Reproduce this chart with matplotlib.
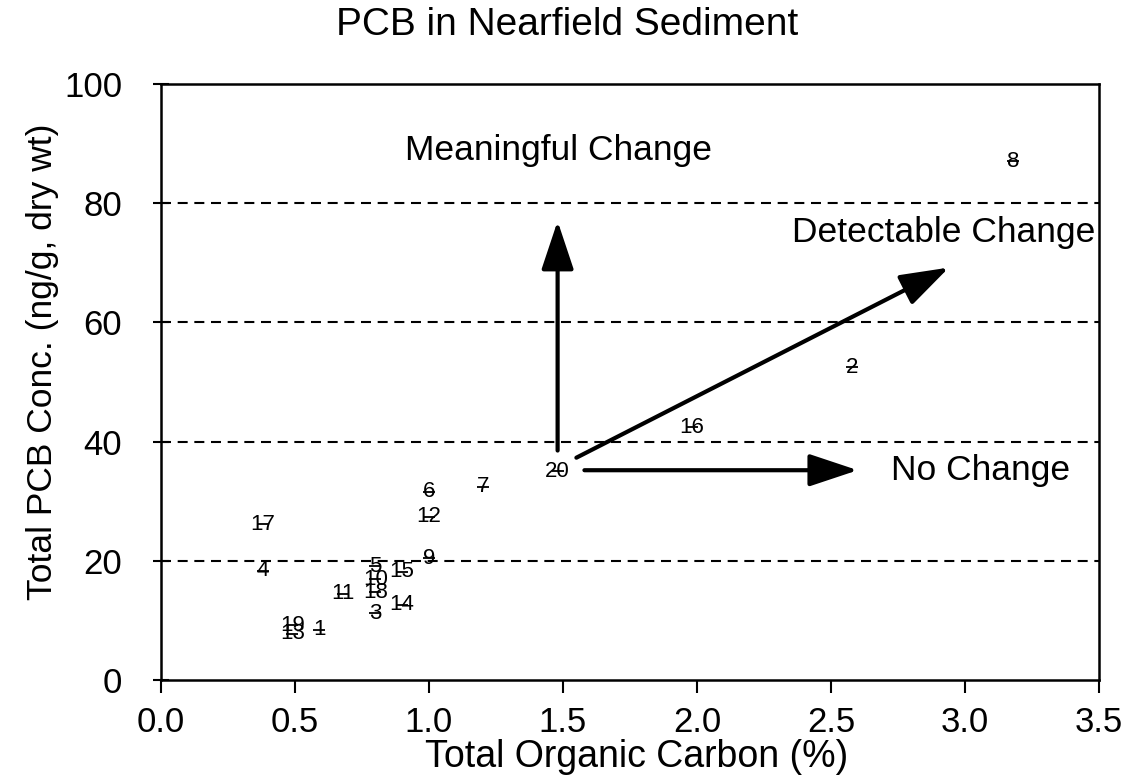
import numpy as np
import matplotlib
matplotlib.use('Agg')
import matplotlib.pyplot as plt

plt.rcParams['font.family'] = ['Liberation Sans', 'DejaVu Sans']

# station data
stations = ['1', '2', '3', '4', '5', '6', '7', '8', '9', '10',
            '11', '12', '13', '14', '15', '16', '17', '18', '19', '20']
toc = [0.59, 2.58, 0.80, 0.38, 0.80, 1.00, 1.20, 3.18, 1.00, 0.80,
       0.68, 1.00, 0.49, 0.90, 0.90, 1.98, 0.38, 0.80, 0.49, 1.48]
pcb = [8.4, 52.5, 11.2, 18.3, 19.1, 31.6, 32.4, 87.0, 20.4, 16.9,
       14.5, 27.4, 7.8, 12.6, 18.2, 42.4, 26.1, 14.7, 9.2, 35.0]

# reference levels (dashed lines)
levels = [20, 40, 60, 80]

# change arrows: (start, end) in data units
arrows = [((1.48, 38.5), (1.48, 77.0)),
          ((1.55, 37.3), (2.94, 69.2)),
          ((1.58, 35.2), (2.60, 35.2))]

# region labels (baseline positions)
notes = ['Meaningful Change', 'Detectable Change', 'No Change']
note_x = [1.483, 2.92, 3.06]
note_y = [87.2, 73.5, 33.5]

fig = plt.figure(figsize=(11.36, 7.82), dpi=100)
ax = fig.add_axes([0.1417, 0.1304, 0.8257, 0.7622])

for lv in levels:
    ax.axhline(lv, color='black', lw=1.5, ls=(0, (4.8, 3.2)), zorder=1)

ax.plot(toc, pcb, ls='none', marker='_', ms=8, mew=1.3, color='black', zorder=3)
for s, x, y in zip(stations, toc, pcb):
    ax.text(x, y, s, ha='center', va='center', fontsize=16, color='black', zorder=4)

for (x0, y0), (x1, y1) in arrows:
    ax.annotate('', xy=(x1, y1), xytext=(x0, y0),
                arrowprops=dict(arrowstyle='-|>,head_length=1.5,head_width=0.5',
                                mutation_scale=20, lw=3, color='black',
                                shrinkA=0, shrinkB=0), zorder=5)

for t, x, y in zip(notes, note_x, note_y):
    ax.text(x, y, t, ha='center', va='baseline', fontsize=25.5, color='black')

ax.set_xlim(0, 3.5)
ax.set_ylim(0, 100)
xt = np.arange(0, 3.51, 0.5)
ax.set_xticks(xt)
ax.set_xticklabels(['%.1f' % v for v in xt])
ax.set_yticks([0, 20, 40, 60, 80, 100])
ax.tick_params(axis='x', direction='out', length=9, width=1.5, labelsize=25, pad=10)
ax.tick_params(axis='y', direction='inout', length=12, width=1.5, labelsize=25, pad=22)
for sp in ax.spines.values():
    sp.set_linewidth(1.8)

fig.text(0.5603, 0.0192, 'Total Organic Carbon (%)', ha='center', va='baseline', fontsize=27)
fig.text(0.037, 0.5377, 'Total PCB Conc. (ng/g, dry wt)', ha='center', va='center',
         rotation=90, fontsize=25.5)
fig.text(0.4996, 0.9552, 'PCB in Nearfield Sediment', ha='center', va='baseline', fontsize=28)

fig.savefig('out.png', dpi=100)
